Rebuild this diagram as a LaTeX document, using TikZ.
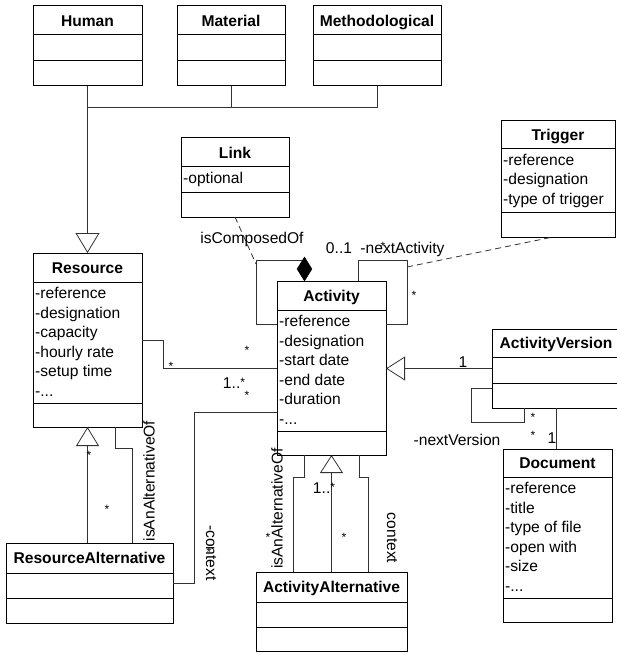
\documentclass[tikz,border=0pt]{standalone}
\usepackage{fontspec}
\setmainfont{Liberation Sans}
\usetikzlibrary{arrows.meta,shapes.geometric}
\newcommand\dfont{\fontsize{15.6}{19.5}\selectfont}
\newcommand\sfont{\fontsize{12}{14}\selectfont}
\newcommand\attrdots{-...}
\newcommand\smstar{\raisebox{1.8pt}{\sfont *}}
\tikzset{
  cls/.style={draw=black, line width=1pt, inner sep=0pt, outer sep=0pt, anchor=north west},
  divline/.style={draw=black, line width=1pt},
  titlet/.style={anchor=base, inner sep=0pt, font=\dfont\bfseries},
  attr/.style={anchor=base west, inner sep=0pt, font=\dfont},
  lbl/.style={anchor=base, inner sep=0pt, font=\dfont},
  rlbl/.style={anchor=center, inner sep=0pt, font=\dfont},
  starlbl/.style={anchor=center, inner sep=0pt, font=\sfont, yshift=-2.6pt},
  conn/.style={draw=black!80, line width=0.8pt},
  dashconn/.style={conn, dash pattern=on 6pt off 4pt},
  gen/.style 2 args={conn, -{Triangle[open, length=#1pt, width=#2pt]}},
}
\newcommand\umlbox[8]{%
  \node[cls, minimum width={#4-#2}, minimum height={#5-#3}] (#1) at (#2,#3) {};
  \draw[divline] (#2,#6) -- (#4,#6);
  \draw[divline] (#2,#7) -- (#4,#7);
  \node[titlet] (#1-t) at ({(#2+#4)/2},{(#6+#3)/2+5.6}) {#8};
}
\newcommand\umlattrs[4]{%
  \foreach \t [count=\i] in {#4} {\node[attr] (#1-a\i) at ({#2+2},{#3+16.5+(\i-1)*19.5}) {\t};}
}
\begin{document}
\begin{tikzpicture}[x=1pt,y=-1pt]
\useasboundingbox (0,0) rectangle (616,655);
% classes
\umlbox{hum}{33}{6}{142}{86}{35}{61}{Human}
\umlbox{mat}{177}{6}{285}{86}{35}{61}{Material}
\umlbox{meth}{313}{6}{441}{86}{35}{61}{Methodological}
\umlbox{link}{181}{138}{289}{217}{167}{192}{Link}
\umlattrs{link}{181}{167}{-optional}
\umlbox{trig}{501}{121}{615}{237}{149}{212}{Trigger}
\umlattrs{trig}{501}{149}{-reference,-designation,-type of trigger}
\umlbox{res}{33}{253}{142}{427}{282}{403}{Resource}
\umlattrs{res}{33}{282}{-reference,-designation,-capacity,-hourly rate,-setup time,\attrdots}
\umlbox{act}{277}{281}{386}{455}{310}{431}{Activity}
\umlattrs{act}{277}{310}{-reference,-designation,-start date,-end date,-duration,\attrdots}
\umlbox{aver}{492}{329}{620}{408}{357}{383}{ActivityVersion}
\umlbox{doc}{503}{449}{612}{622}{477}{598}{Document}
\umlattrs{doc}{503}{477}{-reference,-title,-type of file,-open with,-size,\attrdots}
\umlbox{ralt}{6}{543}{173}{623}{573}{598}{ResourceAlternative}
\umlbox{aalt}{256}{572}{407}{651}{602}{627}{ActivityAlternative}

% generalization of resource kinds
\coordinate (bus) at (87.5,107);
\draw[conn] (mat.south) |- (bus);
\draw[conn] (meth.south) |- (bus);
\draw[conn] (hum.south) -- (bus);
\draw[gen={20}{24}] (bus) -- (res.north);

% composition (isComposedOf) with association class Link
\draw[conn] ([yshift=-43pt]act.north west) -- (256,324) -- (256,260) -- (304.5,260);
\coordinate (compc) at (256,264);
\draw[dashconn] (link.south) -- (compc);
\node[diamond, fill=black, draw=black, line width=0.5pt, inner sep=0pt, minimum width=15pt, minimum height=24pt] (dia) at (304.5,269) {};

% nextActivity loop with Trigger
\draw[conn] ([xshift=81pt]act.north west) -- (358,260) -- (407,260) -- (407,324) -- ([yshift=-43pt]act.north east);
\coordinate (nextc) at (407,267);
\draw[dashconn] (nextc) -- ([xshift=-5pt]trig.south);

% resource - activity
\draw[conn] ([yshift=-87pt]res.north east) -- (163,340) -- (163,368) -- ([yshift=-87pt]act.north west);
% context
\draw[conn] (ralt.east) -- (194,583) -- (194,412) -- ([yshift=-131pt]act.north west);

% resource alternative
\draw[gen={19}{23}] (res.south |- ralt.north) -- (res.south);
\draw[conn] ([xshift=82pt]res.south west) -- (115,448) -- (132,448) -- ([xshift=126pt]ralt.north west);

% activity alternative
\draw[gen={18}{23}] (aalt.north) -- (act.south);
\draw[conn] ([xshift=27pt]act.south west) -- (304,477) -- (293,477) -- ([xshift=37pt]aalt.north west);
\draw[conn] ([xshift=82pt]act.south west) -- (359,477) -- (368,477) -- ([xshift=112pt]aalt.north west);

% activity version
\draw[gen={19}{24}] (aver.west) -- (aver.west -| act.east);
\draw[conn] ([yshift=-59pt]aver.north west) -- (471,388) -- (471,422) -- (524,422) -- ([xshift=32pt]aver.south west);
\draw[conn] (aver.south) -- (aver.south |- doc.north);

% labels
\node[lbl] (l1) at (252,243.5) {isComposedOf};
\node[lbl] (l2) at (339,253.5) {0..1};
\node[lbl] (l3) at (402.5,253.5) {-nextActivity};
\node[starlbl] (l4) at (383,244) {*};
\node[starlbl] (l5) at (414,293) {*};
\node[starlbl] (l6) at (171,364) {*};
\node[starlbl] (l7) at (247,348) {*};
\node[lbl] (l8) at (234,388.5) {1..\smstar};
\node[starlbl] (l9) at (247,393) {*};
\node[lbl] (l10) at (463,367.6) {1};
\node[starlbl] (l11) at (533,415) {*};
\node[starlbl] (l12) at (533,433) {*};
\node[lbl] (l13) at (457,445.5) {-nextVersion};
\node[lbl] (l14) at (552,443.6) {1};
\node[lbl] (l15) at (324,493.6) {1..\smstar};
\node[starlbl] (l16) at (344,535) {*};
\node[rlbl, rotate=90] (l17) at (277,508.5) {isAnAlternativeOf};
\node[starlbl] (l18) at (268,535) {*};
\node[rlbl, rotate=-90] (l19) at (392,538) {context};
\node[starlbl] (l20) at (89,453) {*};
\node[starlbl] (l21) at (107,507) {*};
\node[rlbl, rotate=90] (l22) at (149,481) {isAnAlternativeOf};
\node[rlbl, rotate=-90] (l23) at (211,553) {-context};
\node[starlbl] (l24) at (209,550) {*};
\end{tikzpicture}
\end{document}
